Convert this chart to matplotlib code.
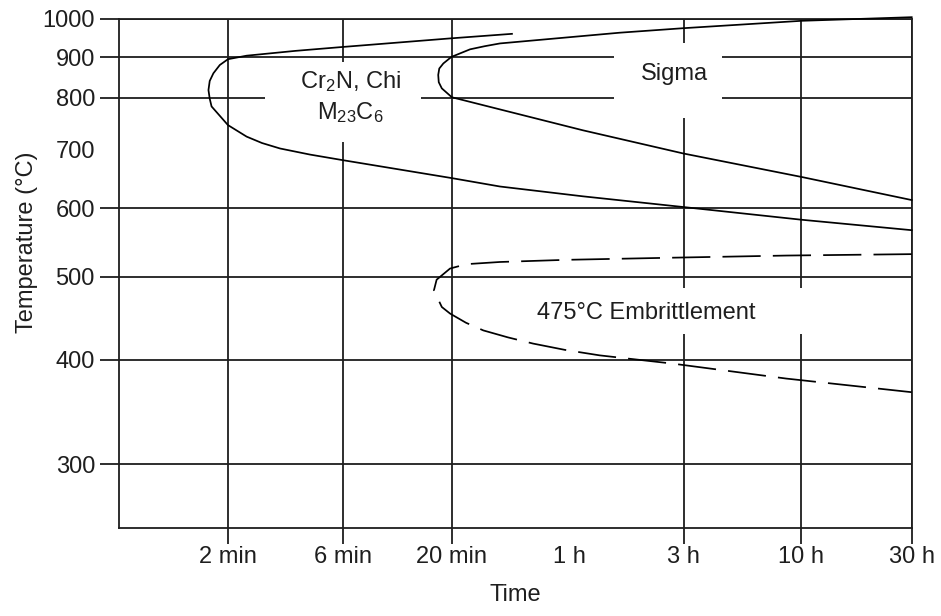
import numpy as np
import matplotlib
matplotlib.use('Agg')
import matplotlib.pyplot as plt
from matplotlib.patches import Rectangle

# ---- data (time in minutes, temperature in degC) ----
cr_time = [35, 19.6, 6, 3.8, 2.39, 2.0, 1.85, 1.74, 1.68, 1.66, 1.68, 1.71, 2.0, 2.39, 2.77, 3.29, 4.38, 6, 20, 31.3, 68, 179, 604, 1800]
cr_temp = [960, 948, 926, 916, 904, 895, 880, 859, 840, 818, 798, 782, 745, 723, 711, 701, 690, 680, 649, 635, 619, 602, 582, 566]

sigma_time = [1800, 604, 179, 97, 31.3, 27.2, 23.7, 19.9, 18.2, 17.4, 17.2, 17.3, 17.9, 20, 31.3, 68, 179, 604, 1800]
sigma_temp = [1005, 995, 975, 963, 935, 928, 920, 901, 884, 871, 855, 837, 822, 801, 776, 735, 692, 651, 613]

emb_time = [1800, 518, 162, 58, 31.3, 22.9, 19.6, 16.9, 16.4, 17.9, 19.6, 22.8, 26.8, 33.7, 42.6, 57.3, 80, 162, 518, 1800]
emb_temp = [531, 529, 526, 523, 520, 517, 511, 496, 482, 461, 453, 442, 433, 425, 418, 411, 405, 396, 380, 366]

x_ticks = [2, 6, 20, 60, 180, 600, 1800]
x_labels = ['2 min', '6 min', '20 min', '1 h', '3 h', '10 h', '30 h']
y_ticks = [300, 400, 500, 600, 700, 800, 900, 1000]

# scale knots: where the printed grid puts each tick (the original axes are only roughly logarithmic)
x_knot_pos = [228, 343, 452, 570, 684, 801, 912]
y_knot_val = [300, 400, 500, 600, 800, 900, 1000]
y_knot_pos = [-464.3, -360, -276.7, -208.3, -97.7, -57.3, -19]


def extrap(x, xp, fp):
    x = np.asarray(x, dtype=float)
    out = np.interp(x, xp, fp)
    lo = (fp[1] - fp[0]) / (xp[1] - xp[0])
    hi = (fp[-1] - fp[-2]) / (xp[-1] - xp[-2])
    out = np.where(x < xp[0], fp[0] + (x - xp[0]) * lo, out)
    out = np.where(x > xp[-1], fp[-1] + (x - xp[-1]) * hi, out)
    return out


def safelog(v):
    with np.errstate(divide='ignore', invalid='ignore'):
        return np.log10(np.asarray(v, dtype=float))


lx = np.log10(x_ticks)
ly = np.log10(y_knot_val)
fx = (lambda t: extrap(safelog(t), lx, x_knot_pos), lambda p: 10 ** extrap(p, x_knot_pos, lx))
fy = (lambda t: extrap(safelog(t), ly, y_knot_pos), lambda p: 10 ** extrap(p, y_knot_pos, ly))

plt.rcParams['font.family'] = ['Liberation Sans', 'DejaVu Sans']
plt.rcParams['mathtext.default'] = 'regular'
ink = '#1e1e1e'
fs = 17

fig = plt.figure(figsize=(9.41, 6.16), dpi=100)
ax = fig.add_axes([119 / 941, 1 - 528.3 / 616, 792.7 / 941, 509.3 / 616])
ax.set_xscale('function', functions=fx)
ax.set_yscale('function', functions=fy)
ax.set_xlim(float(fx[1](119)), 1800)
ax.set_ylim(float(fy[1](-528.3)), 1000)

# grid (no line at 700 degC or at 1 h)
for v in y_ticks:
    if v != 700:
        ax.axhline(v, color=ink, lw=1.3, zorder=0.5)
for v in x_ticks:
    if v != 60:
        ax.axvline(v, color=ink, lw=1.3, zorder=0.5)

# white gaps behind the labels
for x0, y0, w, h in [(0.1842, 0.7591, 0.1968, 0.1571),
                     (0.6245, 0.8050, 0.1362, 0.1473),
                     (0.4870, 0.3815, 0.4100, 0.0897)]:
    ax.add_patch(Rectangle((x0, y0), w, h, transform=ax.transAxes,
                           facecolor='white', edgecolor='none', zorder=1))

ax.plot(cr_time, cr_temp, color='black', lw=1.25, zorder=3, clip_on=False)
ax.plot(sigma_time, sigma_temp, color='black', lw=1.25, zorder=3, clip_on=False)
ax.plot(emb_time, emb_temp, color='black', lw=1.25, ls=(0, (22, 7)), zorder=3, clip_on=False)

ax.text(6.55, 839, 'Cr$_2$N, Chi', ha='center', va='center', fontsize=fs, color=ink, zorder=4)
ax.text(6.5, 769, 'M$_{23}$C$_6$', ha='center', va='center', fontsize=fs, color=ink, zorder=4)
ax.text(165, 857, 'Sigma', ha='center', va='center', fontsize=fs, color=ink, zorder=4)
ax.text(125, 454, '475°C Embrittlement', ha='center', va='center', fontsize=fs, color=ink, zorder=4)

ax.xaxis.set_major_locator(matplotlib.ticker.FixedLocator(x_ticks))
ax.xaxis.set_minor_locator(matplotlib.ticker.NullLocator())
ax.yaxis.set_major_locator(matplotlib.ticker.FixedLocator(y_ticks))
ax.yaxis.set_minor_locator(matplotlib.ticker.NullLocator())
ax.set_xticklabels(x_labels)
ax.set_yticklabels([str(v) for v in y_ticks])
ax.tick_params(axis='x', length=11.5, width=1.3, pad=1.5, color=ink, labelcolor=ink, labelsize=fs)
ax.tick_params(axis='y', length=13.7, width=1.3, pad=3.6, color=ink, labelcolor=ink, labelsize=fs)
ax.xaxis.get_major_ticks()[3].tick1line.set_visible(False)
ax.yaxis.get_major_ticks()[4].tick1line.set_visible(False)

for s in ax.spines.values():
    s.set_linewidth(1.3)
    s.set_color(ink)

ax.set_xlabel('Time', fontsize=fs, color=ink, labelpad=11)
ax.set_ylabel('Temperature (°C)', fontsize=fs, color=ink)
ax.yaxis.set_label_coords(-0.102, 0.561)

fig.savefig('out.png', dpi=100)
